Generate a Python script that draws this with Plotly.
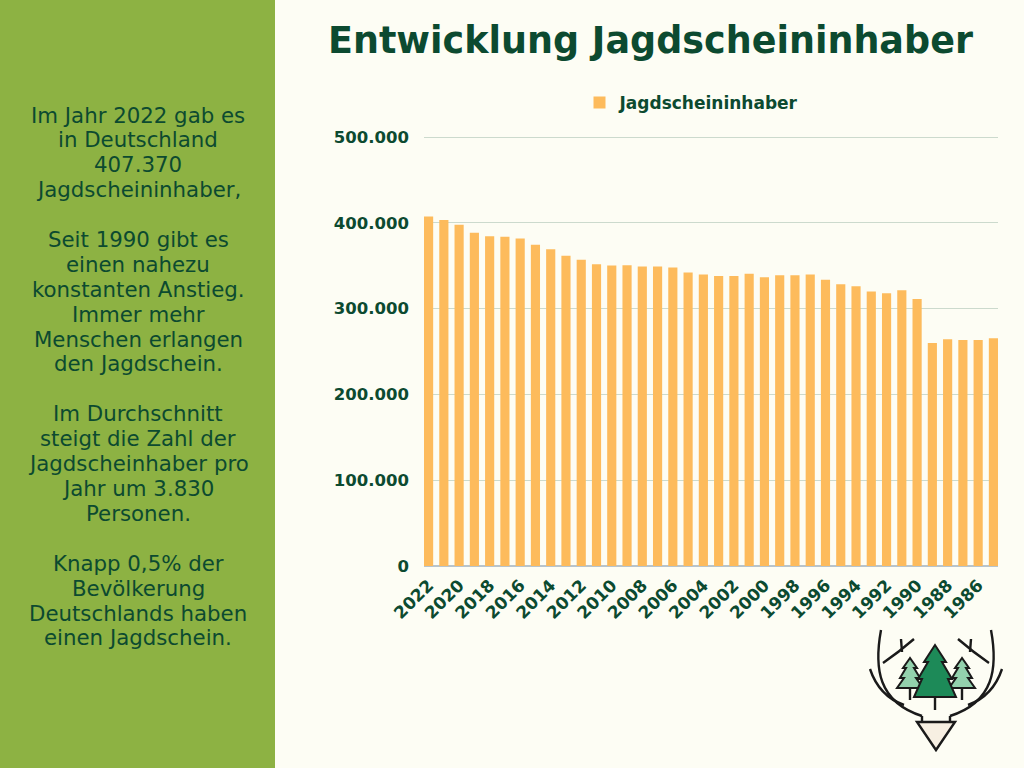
import plotly.graph_objects as go

years = [str(y) for y in range(2022, 1984, -1)]
holders = [407370, 403400, 397600, 388300, 384400, 383600, 381600, 374300, 369300, 361500,
           356800, 351800, 350200, 350600, 349000, 349000, 347800, 342000, 339700, 338100,
           338100, 340500, 336600, 339000, 339000, 339700, 333500, 328500, 326100, 319900,
           318000, 321400, 311300, 260000, 264300, 263500, 263500, 265500]
tick_labels = [str(y) for y in range(2022, 1985, -2)]
y_ticks = [0, 100000, 200000, 300000, 400000, 500000]
y_tick_text = ["0", "100.000", "200.000", "300.000", "400.000", "500.000"]

side_lines = ["Im Jahr 2022 gab es", "in Deutschland", "407.370", "Jagdscheininhaber,", "",
              "Seit 1990 gibt es", "einen nahezu", "konstanten Anstieg.", "Immer mehr",
              "Menschen erlangen", "den Jagdschein.", "",
              "Im Durchschnitt", "steigt die Zahl der", "Jagdscheinhaber pro", "Jahr um 3.830",
              "Personen.", "",
              "Knapp 0,5% der", "Bevölkerung", "Deutschlands haben", "einen Jagdschein."]

W, H = 1024, 768
DARK = "#0c4a30"
FONT = "DejaVu Sans"

def px(x):
    return x / W

def py(y):
    return 1 - y / H

fig = go.Figure()
fig.add_trace(go.Bar(
    x=years, y=holders, name="Jagdscheininhaber",
    marker=dict(color="#fdbb5c", line=dict(width=0)),
    showlegend=True,
))

shapes = [
    dict(type="rect", xref="paper", yref="paper", x0=0, x1=px(275), y0=0, y1=1,
         fillcolor="#8db243", line=dict(width=0), layer="below"),
]

def path(points, close=False):
    s = "M " + " L ".join(f"{px(x):.5f},{py(y):.5f}" for x, y in points)
    return s + (" Z" if close else "")

def qpath(p0, c, p1):
    return (f"M {px(p0[0]):.5f},{py(p0[1]):.5f} Q {px(c[0]):.5f},{py(c[1]):.5f} "
            f"{px(p1[0]):.5f},{py(p1[1]):.5f}")

def cpath(p0, c1, c2, p1):
    return (f"M {px(p0[0]):.5f},{py(p0[1]):.5f} C {px(c1[0]):.5f},{py(c1[1]):.5f} "
            f"{px(c2[0]):.5f},{py(c2[1]):.5f} {px(p1[0]):.5f},{py(p1[1]):.5f}")

line_k = dict(color="#1a1a1a", width=2.4)
# antlers
for sgn in (1, -1):
    def X(x):
        return 936 + sgn * (x - 936)
    shapes += [
        dict(type="path", xref="paper", yref="paper",
             path=cpath((X(881), 630), (X(874), 668), (X(878), 702), (X(922), 716)), line=line_k),
        dict(type="path", xref="paper", yref="paper",
             path=path([(X(922), 716), (X(922), 722)]), line=line_k),
        dict(type="path", xref="paper", yref="paper",
             path=qpath((X(870), 669), (X(879), 696), (X(904), 705)), line=line_k),
        dict(type="path", xref="paper", yref="paper",
             path=qpath((X(883), 663), (X(899), 652), (X(914), 639)), line=line_k),
        dict(type="path", xref="paper", yref="paper",
             path=path([(X(901), 639), (X(902), 652)]), line=line_k),
    ]
# small trees
for cx in (910, 962):
    shapes += [
        dict(type="path", xref="paper", yref="paper", path=path([(cx, 688), (cx, 700)]), line=line_k),
        dict(type="path", xref="paper", yref="paper",
             path=path([(cx, 658), (cx - 7, 668), (cx - 4, 668), (cx - 10, 678), (cx - 6, 678), (cx - 13, 688),
                        (cx + 13, 688), (cx + 6, 678), (cx + 10, 678), (cx + 4, 668), (cx + 7, 668)], True),
             fillcolor="#93d1ad", line=dict(color="#1a1a1a", width=2)),
    ]
# big tree
shapes += [
    dict(type="path", xref="paper", yref="paper", path=path([(935, 696), (935, 710)]), line=line_k),
    dict(type="path", xref="paper", yref="paper",
         path=path([(935, 645), (924, 662), (928, 662), (918, 679), (922, 679), (914, 697),
                    (956, 697), (948, 679), (952, 679), (942, 662), (946, 662)], True),
         fillcolor="#1d8a58", line=dict(color="#1a1a1a", width=2)),
    dict(type="path", xref="paper", yref="paper",
         path=path([(917, 722), (955, 722), (936, 750)], True),
         fillcolor="#f7efe2", line=dict(color="#1a1a1a", width=2.4)),
]

annotations = [
    dict(text="<b>Entwicklung Jagdscheininhaber</b>", xref="paper", yref="paper",
         x=px(650), y=py(41), xanchor="center", yanchor="middle", showarrow=False,
         font=dict(family=FONT, size=36.5, color=DARK)),
]
for i, line in enumerate(side_lines):
    if line:
        annotations.append(dict(text=line, xref="paper", yref="paper", x=px(138), y=py(115 + i * 24.9),
                                xanchor="center", yanchor="middle", showarrow=False,
                                font=dict(family=FONT, size=21.3, color=DARK)))

Y_MAX = 502000
top_px = 566 - (566 - 137) * Y_MAX / 500000

fig.update_layout(
    width=W, height=H,
    margin=dict(l=0, r=0, t=0, b=0, pad=0, autoexpand=False),
    paper_bgcolor="#fdfdf4", plot_bgcolor="#fdfdf4",
    font=dict(family=FONT, color=DARK),
    bargap=0.4,
    shapes=shapes,
    annotations=annotations,
    legend=dict(orientation="h", x=px(692), y=py(103), xanchor="center", yanchor="middle",
                font=dict(family=FONT, size=17, color=DARK, weight=600),
                bgcolor="rgba(0,0,0,0)"),
    xaxis=dict(domain=[px(424), px(998)], type="category", range=[-0.3, 37.3],
               tickmode="array", tickvals=tick_labels, ticktext=tick_labels,
               tickangle=-45, tickfont=dict(family=FONT, size=17, color=DARK, weight=600),
               showgrid=False, showline=False, ticks="", ticklabelstandoff=5, automargin=False),
    yaxis=dict(domain=[py(566), py(top_px)], range=[0, Y_MAX],
               tickmode="array", tickvals=y_ticks, ticktext=y_tick_text,
               tickfont=dict(family=FONT, size=16.5, color=DARK, weight=700),
               gridcolor="#ccdacd", gridwidth=1, zeroline=True, zerolinecolor="#b8c4cc",
               ticks="", ticklabelstandoff=14, automargin=False),
)

fig.write_html("out.html", config={"displayModeBar": False},
               post_script="document.body.style.margin='0';document.body.style.overflow='hidden';")
